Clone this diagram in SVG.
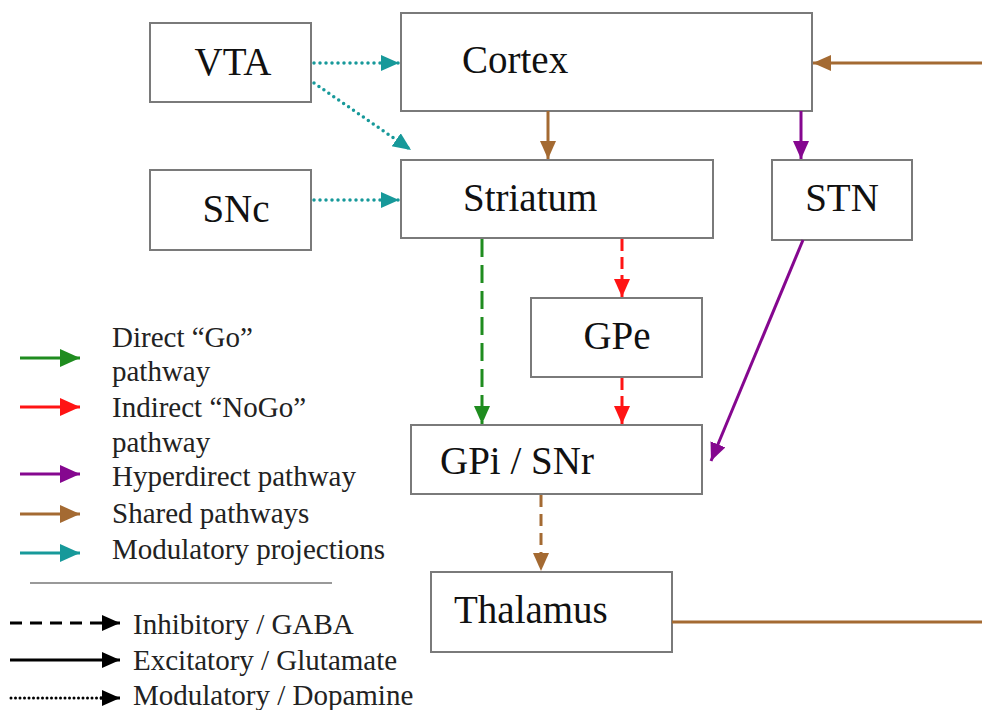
<svg xmlns="http://www.w3.org/2000/svg" width="982" height="710" viewBox="0 0 982 710">
<style>
.box{fill:#fff;stroke:#7a7a7a;stroke-width:2}
.nt{font-family:"Liberation Serif","Times New Roman",serif;font-size:39px;fill:#111}
.lt{font-family:"Liberation Serif","Times New Roman",serif;font-size:29px;fill:#222}
.c{fill:none;stroke-width:3}
.dot{stroke-dasharray:0 6;stroke-linecap:round;stroke-width:3.5}
</style>
<defs>
<marker id="aTeal" markerUnits="userSpaceOnUse" markerWidth="20" markerHeight="18" refX="18" refY="8" orient="auto"><path d="M0,0 L18,8 L0,16 z" fill="#17999a"/></marker>
<marker id="aBrown" markerUnits="userSpaceOnUse" markerWidth="20" markerHeight="18" refX="18" refY="8" orient="auto"><path d="M0,0 L18,8 L0,16 z" fill="#a46a32"/></marker>
<marker id="aPurple" markerUnits="userSpaceOnUse" markerWidth="20" markerHeight="18" refX="18" refY="8" orient="auto"><path d="M0,0 L18,8 L0,16 z" fill="#85078f"/></marker>
<marker id="aGreen" markerUnits="userSpaceOnUse" markerWidth="20" markerHeight="18" refX="18" refY="8" orient="auto"><path d="M0,0 L18,8 L0,16 z" fill="#1f8c1f"/></marker>
<marker id="aRed" markerUnits="userSpaceOnUse" markerWidth="20" markerHeight="18" refX="18" refY="8" orient="auto"><path d="M0,0 L18,8 L0,16 z" fill="#ff1414"/></marker>
<marker id="aBlack" markerUnits="userSpaceOnUse" markerWidth="20" markerHeight="18" refX="18" refY="8" orient="auto"><path d="M0,0 L18,8 L0,16 z" fill="#000"/></marker>
<marker id="lTeal" markerUnits="userSpaceOnUse" markerWidth="22" markerHeight="20" refX="20" refY="9" orient="auto"><path d="M0,0 L20,9 L0,18 z" fill="#17999a"/></marker>
<marker id="lBrown" markerUnits="userSpaceOnUse" markerWidth="22" markerHeight="20" refX="20" refY="9" orient="auto"><path d="M0,0 L20,9 L0,18 z" fill="#a46a32"/></marker>
<marker id="lPurple" markerUnits="userSpaceOnUse" markerWidth="22" markerHeight="20" refX="20" refY="9" orient="auto"><path d="M0,0 L20,9 L0,18 z" fill="#85078f"/></marker>
<marker id="lGreen" markerUnits="userSpaceOnUse" markerWidth="22" markerHeight="20" refX="20" refY="9" orient="auto"><path d="M0,0 L20,9 L0,18 z" fill="#1f8c1f"/></marker>
<marker id="lRed" markerUnits="userSpaceOnUse" markerWidth="22" markerHeight="20" refX="20" refY="9" orient="auto"><path d="M0,0 L20,9 L0,18 z" fill="#ff1414"/></marker>
</defs>

<g id="VTA"><rect class="box" x="150" y="23" width="161" height="79"/><text class="nt" x="233" y="75" text-anchor="middle">VTA</text></g>
<g id="Cortex"><rect class="box" x="401" y="13" width="411" height="98"/><text class="nt" x="462" y="73">Cortex</text></g>
<g id="SNc"><rect class="box" x="150" y="170" width="161" height="80"/><text class="nt" x="236" y="222" text-anchor="middle">SNc</text></g>
<g id="Striatum"><rect class="box" x="401" y="160" width="312" height="78"/><text class="nt" x="463" y="211">Striatum</text></g>
<g id="STN"><rect class="box" x="772" y="160" width="140" height="80"/><text class="nt" x="842" y="211" text-anchor="middle">STN</text></g>
<g id="GPe"><rect class="box" x="531" y="298" width="171" height="79"/><text class="nt" x="617" y="349" text-anchor="middle">GPe</text></g>
<g id="GPi"><rect class="box" x="411" y="425" width="291" height="69"/><text class="nt" x="440" y="474">GPi / SNr</text></g>
<g id="Thalamus"><rect class="box" x="431" y="572" width="241" height="80"/><text class="nt" x="454" y="623">Thalamus</text></g>

<g id="connectors">
<line class="c dot" x1="314" y1="63" x2="399" y2="63" stroke="#17999a" marker-end="url(#aTeal)"/>
<line class="c dot" x1="314" y1="83" x2="411" y2="150" stroke="#17999a" marker-end="url(#aTeal)"/>
<line class="c dot" x1="314" y1="200" x2="399" y2="200" stroke="#17999a" marker-end="url(#aTeal)"/>
<line class="c" x1="548" y1="111" x2="548" y2="159" stroke="#a46a32" marker-end="url(#aBrown)"/>
<line class="c" x1="801" y1="111" x2="801" y2="159" stroke="#85078f" marker-end="url(#aPurple)"/>
<line class="c" x1="982" y1="63" x2="813" y2="63" stroke="#a46a32" marker-end="url(#aBrown)"/>
<line class="c" x1="482" y1="239" x2="482" y2="424" stroke="#1f8c1f" stroke-dasharray="18 8" marker-end="url(#aGreen)"/>
<line class="c" x1="622" y1="239" x2="622" y2="297" stroke="#ff1414" stroke-dasharray="12 6" marker-end="url(#aRed)"/>
<line class="c" x1="622" y1="378" x2="622" y2="424" stroke="#ff1414" stroke-dasharray="12 6" marker-end="url(#aRed)"/>
<line class="c" x1="803" y1="240" x2="711" y2="461" stroke="#85078f" marker-end="url(#aPurple)"/>
<line class="c" x1="541" y1="495" x2="541" y2="571" stroke="#a46a32" stroke-dasharray="12 7" marker-end="url(#aBrown)"/>
<line class="c" x1="672" y1="622" x2="982" y2="622" stroke="#a46a32"/>
</g>

<g id="legend">
<line class="c" x1="20" y1="358" x2="80" y2="358" stroke="#1f8c1f" marker-end="url(#lGreen)"/>
<text class="lt" x="112" y="347">Direct “Go”</text>
<text class="lt" x="112" y="381">pathway</text>
<line class="c" x1="20" y1="407" x2="80" y2="407" stroke="#ff1414" marker-end="url(#lRed)"/>
<text class="lt" x="112" y="417">Indirect “NoGo”</text>
<text class="lt" x="112" y="452">pathway</text>
<line class="c" x1="20" y1="474" x2="80" y2="474" stroke="#85078f" marker-end="url(#lPurple)"/>
<text class="lt" x="112" y="486">Hyperdirect pathway</text>
<line class="c" x1="20" y1="514" x2="80" y2="514" stroke="#a46a32" marker-end="url(#lBrown)"/>
<text class="lt" x="112" y="523">Shared pathways</text>
<line class="c" x1="20" y1="553" x2="80" y2="553" stroke="#17999a" marker-end="url(#lTeal)"/>
<text class="lt" x="112" y="559">Modulatory projections</text>
<line x1="30" y1="583" x2="332" y2="583" stroke="#999" stroke-width="2"/>
<line class="c" x1="10" y1="623" x2="120" y2="623" stroke="#000" stroke-dasharray="12 8" marker-end="url(#aBlack)"/>
<text class="lt" x="133" y="634">Inhibitory / GABA</text>
<line class="c" x1="10" y1="660" x2="120" y2="660" stroke="#000" marker-end="url(#aBlack)"/>
<text class="lt" x="133" y="670">Excitatory / Glutamate</text>
<line class="c" x1="11" y1="698" x2="104" y2="698" stroke="#000" stroke-width="2.5" stroke-dasharray="0 4.5" stroke-linecap="round"/>
<line class="c" x1="100" y1="698" x2="120" y2="698" stroke="#000" stroke-width="1" marker-end="url(#aBlack)"/>
<text class="lt" x="133" y="705">Modulatory / Dopamine</text>
</g>
</svg>
